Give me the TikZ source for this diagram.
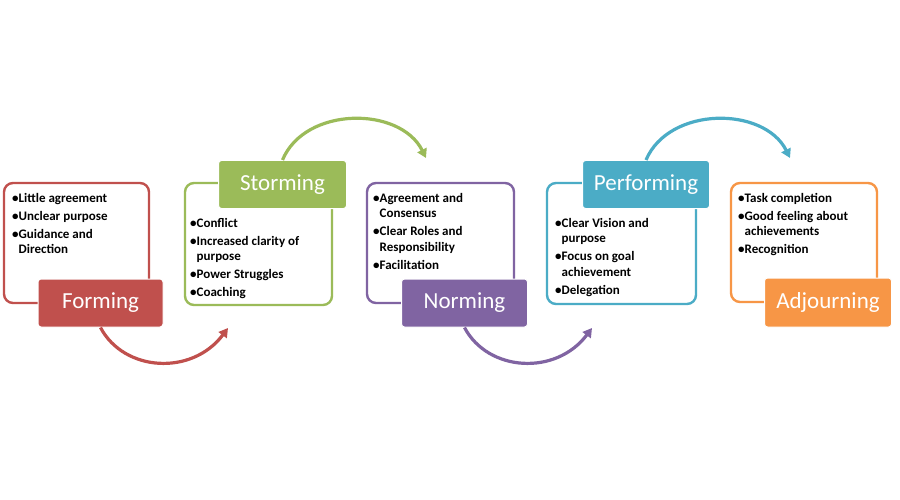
\documentclass[tikz,border=0pt]{standalone}
\usepackage{fontspec}
\setmainfont{Carlito}
\usetikzlibrary{arrows.meta}
\definecolor{cred}{HTML}{C0504D}
\definecolor{cgreen}{HTML}{9BBB59}
\definecolor{cpurple}{HTML}{8064A2}
\definecolor{cteal}{HTML}{4BACC6}
\definecolor{corange}{HTML}{F79646}
\newcommand{\bl}{\textbullet}
\newcommand{\ind}{\hphantom{\textbullet}}
\tikzset{
  x=1pt, y=-1pt,
  textbox/.style={draw=#1, line width=2.4pt, rounded corners=9pt, fill=white},
  labelbox/.style={fill=#1, draw=white, line width=1pt, rounded corners=3pt, text=white,
     font=\fontsize{23}{27}\selectfont, inner sep=0pt},
  items/.style={anchor=north west, align=left, inner sep=0pt,
     font=\bfseries\fontsize{13}{15.5}\selectfont},
  arc/.style={draw=#1, line width=3.2pt, -{Triangle[length=9pt,width=10pt]}},
}
\begin{document}
\begin{tikzpicture}
\useasboundingbox (0,0) rectangle (900,500);
\fill[white] (0,0) rectangle (900,500);

% Forming
\draw[textbox=cred] (4,183) rectangle (149,303);
\node[items] (ftxt) at (12,193) {\bl Little agreement\\[2.5pt]\bl Unclear purpose\\[2.5pt]\bl Guidance and\\\ind Direction};
\node[labelbox=cred, minimum width=125pt, minimum height=48pt] (flab) at (100.5,303) {Forming};

% Storming
\draw[textbox=cgreen] (185,183) rectangle (332,305);
\node[items] (stxt) at (190,218) {\bl Conflict\\[2.5pt]\bl Increased clarity of\\\ind purpose\\[2.5pt]\bl Power Struggles\\[2.5pt]\bl Coaching};
\node[labelbox=cgreen, minimum width=128pt, minimum height=48pt] (slab) at (282.5,184.5) {Storming};

% Norming
\draw[textbox=cpurple] (367,183) rectangle (514,303);
\node[items] (ntxt) at (373,193) {\bl Agreement and\\\ind Consensus\\[2.5pt]\bl Clear Roles and\\\ind Responsibility\\[2.5pt]\bl Facilitation};
\node[labelbox=cpurple, minimum width=126pt, minimum height=48pt] (nlab) at (464.5,303) {Norming};

% Performing
\draw[textbox=cteal] (547,183) rectangle (696,304);
\node[items] (ptxt) at (555,218) {\bl Clear Vision and\\\ind purpose\\[2.5pt]\bl Focus on goal\\\ind achievement\\[2.5pt]\bl Delegation};
\node[labelbox=cteal, minimum width=127pt, minimum height=48pt] (plab) at (646,184.5) {Performing};

% Adjourning
\draw[textbox=corange] (731,183) rectangle (877,302);
\node[items] (atxt) at (738,193) {\bl Task completion\\[2.5pt]\bl Good feeling about\\\ind achievements\\[2.5pt]\bl Recognition};
\node[labelbox=corange, minimum width=127pt, minimum height=49pt] (alab) at (828,302.5) {Adjourning};

% arrows
\coordinate (fend) at (228,328);
\coordinate (send) at (426,158);
\coordinate (nend) at (592,328);
\coordinate (pend) at (790,158);
\draw[arc=cred] (flab.south) .. controls (124,372) and (192,376) .. (fend);
\draw[arc=cgreen] (slab.north) .. controls (305,106) and (400,106) .. (send);
\draw[arc=cpurple] (nlab.south) .. controls (488,372) and (556,376) .. (nend);
\draw[arc=cteal] (plab.north) .. controls (669,106) and (764,106) .. (pend);
\end{tikzpicture}
\end{document}
